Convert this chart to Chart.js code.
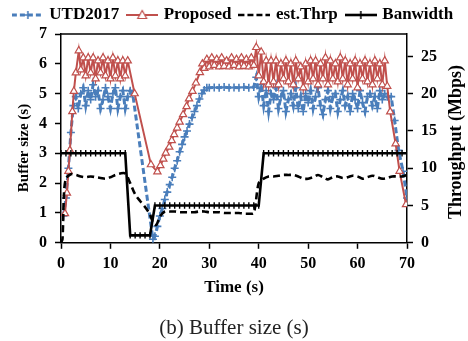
<!DOCTYPE html>
<html><head><meta charset="utf-8">
<script src="https://cdn.jsdelivr.net/npm/chart.js@4.4.1/dist/chart.umd.min.js"></script>
<style>html,body{margin:0;padding:0;background:#fff;}#wrap{width:468px;height:341px;}</style>
</head><body><div id="wrap"><canvas id="c" width="468" height="341"></canvas></div>
<script>
// ---- data ----
const seriesNames = ['UTD2017', 'Proposed', 'est.Thrp', 'Banwidth'];
const xTitle = 'Time (s)';
const yTitle = 'Buffer size (s)';
const y2Title = 'Throughput (Mbps)';
const caption = '(b) Buffer size (s)';

// UTD2017 buffer (s)
const utdT = [0.5,1,1.5,2,2.5,3,3.5,4,4.5,5,5.5,6,6.5,7,7.5,8,8.5,9,9.5,10,10.5,11,11.5,12,12.5,13,13.5,14,14.5,
  18.6,19,19.5,20,20.5,21,21.5,22,22.5,23,23.5,24,24.5,25,25.5,26,26.5,27,27.5,28,28.5,29,29.5,
  30,31,32,33,34,35,36,37,38,39,39.5,
  40,40.5,41,41.5,42,42.5,43,43.5,44,44.5,45,45.5,46,46.5,47,47.5,48,48.5,49,49.5,50,50.5,51,51.5,52,52.5,53,53.5,54,54.5,55,55.5,56,56.5,57,57.5,58,58.5,59,59.5,60,60.5,61,61.5,62,62.5,63,63.5,64,64.5,65,65.5,66,
  66.8,67.5,68.3,69.2,70];
const utdV = [0.9,1.5,2.5,3.7,4.6,4.9,4.5,5.0,5.2,4.6,5.1,4.8,5.3,4.9,5.1,4.5,4.8,5.2,4.9,4.5,5.0,5.2,4.5,4.9,5.1,4.5,4.9,5.1,5.0,
  0.12,0.22,0.55,0.9,1.15,1.45,1.7,1.95,2.2,2.5,2.75,3.05,3.3,3.55,3.75,3.98,4.2,4.4,4.6,4.82,5.0,5.12,5.2,
  5.2,5.21,5.2,5.22,5.2,5.21,5.2,5.22,5.2,5.22,5.55,
  4.9,5.3,4.6,5.1,4.4,5.0,4.8,5.2,4.5,4.9,5.1,4.4,4.8,5.0,4.6,5.2,4.5,4.9,4.4,5.0,4.7,5.1,4.5,4.9,5.2,4.6,4.3,4.8,5.1,4.5,4.9,5.0,4.4,4.8,5.1,4.6,4.9,4.4,5.0,4.8,4.5,5.1,4.7,4.4,4.9,5.0,4.6,4.9,4.5,5.1,4.8,5.0,4.9,
  4.9,4.1,3.1,2.4,1.5];

// Proposed buffer (s)
const propT = [0.8,1.2,1.5,1.8,2.3,2.6,3.0,3.6,4,4.5,5,5.5,6,6.5,7,7.5,8,8.5,9,9.5,10,10.5,11,11.5,12,12.5,13,13.5,14.9,
  18.2,19.5,20.1,20.7,21.2,21.9,22.4,22.9,23.5,24.0,24.7,25.4,25.9,26.6,27.3,28.1,28.6,
  29,29.5,30,30.5,31,31.5,32,32.5,33,33.5,34,34.5,35,35.5,36,36.5,37,37.5,38,38.5,39,39.5,
  40,40.5,41,41.5,42,42.5,43,43.5,44,44.5,45,45.5,46,46.5,47,47.5,48,48.5,49,49.5,50,50.5,51,51.5,52,52.5,53,53.5,54,54.5,55,55.5,56,56.5,57,57.5,58,58.5,59,59.5,60,60.5,61,61.5,62,62.5,63,63.5,64,64.5,65,65.5,66,
  66.6,67.7,68.5,69.8];
const propV = [0.98,1.67,2.4,3.1,4.4,5.08,5.7,6.44,5.8,6.2,5.6,6.2,5.7,6.2,5.5,6.1,5.7,6.2,5.6,6.1,5.5,6.2,5.6,6.1,5.5,6.1,5.6,6.1,5.0,
  2.62,2.38,2.59,2.81,3.01,3.21,3.43,3.63,3.85,4.05,4.3,4.57,4.83,5.08,5.36,5.71,6.0,
  5.85,6.15,5.9,6.2,5.95,6.15,5.9,6.2,5.92,6.1,5.9,6.2,5.95,6.15,5.9,6.2,5.92,6.15,5.9,6.2,5.95,6.55,
  5.6,6.4,5.4,6.1,5.3,6.1,5.4,6.1,5.3,6.0,5.5,6.1,5.4,6.0,5.3,6.1,5.5,5.9,5.2,6.0,5.4,6.1,5.5,6.1,5.3,6.0,5.5,6.2,5.3,6.1,5.5,6.0,5.4,6.2,5.5,6.1,5.3,6.0,5.5,6.1,5.2,6.0,5.5,6.1,5.4,6.0,5.3,6.1,5.5,6.0,5.3,6.1,5.25,
  4.39,3.32,2.4,1.28];

// est.Thrp (Mbps)
const estT = [0,0.3,0.6,1,2,3,4,5,6,7,8,9,10,11,12,13,14,15,16,17,18,18.7,19.3,20,21,22,23,24,25,26,27,28,29,30,31,32,33,34,35,36,37,38,39,
  40,41,42,43,44,45,46,47,48,49,50,51,52,53,54,55,56,57,58,59,60,61,62,63,64,65,66,67,68,69,70];
const estV = [0,0.5,6.5,8.6,9.2,9.1,8.9,8.8,8.9,8.8,8.7,8.6,8.8,9.1,9.3,9.3,8.0,6.5,5.6,4.8,3.8,2.6,2.4,3.5,4.2,4.2,4.2,4.1,4.1,4.1,4.1,4.2,4.2,4.1,4.1,4.1,4.0,4.0,4.0,4.0,3.9,3.9,4.0,
  8.0,8.6,8.9,8.9,9.0,9.1,9.1,9.1,8.9,8.6,8.6,8.8,9.1,8.8,8.5,8.8,8.9,8.7,8.8,9.0,8.9,8.6,8.8,9.0,8.8,8.6,8.7,8.9,8.9,8.9,9.1];

// Banwidth (Mbps)
const bwT = [0,1,2,3,4,5,6,7,8,9,10,11,12,13,14,15,16,17,18,19,20,21,22,23,24,25,26,27,28,29,30,31,32,33,34,35,36,37,38,39,40,
  41,42,43,44,45,46,47,48,49,50,51,52,53,54,55,56,57,58,59,60,61,62,63,64,65,66,67,68,69,70];
const bwV = [12,12,12,12,12,12,12,12,12,12,12,12,12,12,1,1,1,1,1,5,5,5,5,5,5,5,5,5,5,5,5,5,5,5,5,5,5,5,5,5,5,
  12,12,12,12,12,12,12,12,12,12,12,12,12,12,12,12,12,12,12,12,12,12,12,12,12,12,12,12,12,12];

// ---- styling ----
const SERIF = "'Liberation Serif','Times New Roman',serif";
const BLUE = '#4A7EBB';
const RED = '#C0504D';
const BLACK = '#000000';
const pts = (T, V) => T.map((t, i) => ({x: t, y: V[i]}));

function sample(draw) {
  const c = document.createElement('canvas');
  c.width = 32; c.height = 14;
  const g = c.getContext('2d');
  draw(g);
  return c;
}
const samples = [
  sample(g => { g.strokeStyle = BLUE; g.lineWidth = 3; g.setLineDash([5, 3]);
    g.beginPath(); g.moveTo(0, 7); g.lineTo(32, 7); g.stroke();
    g.setLineDash([]); g.lineWidth = 1.6; g.beginPath(); g.moveTo(12, 7); g.lineTo(20, 7); g.moveTo(16, 3); g.lineTo(16, 11); g.stroke(); }),
  sample(g => { g.strokeStyle = RED; g.lineWidth = 2; g.beginPath(); g.moveTo(0, 7); g.lineTo(32, 7); g.stroke();
    g.fillStyle = '#fff'; g.lineWidth = 1.2; g.beginPath(); g.moveTo(16, 2.5); g.lineTo(20.5, 10.5); g.lineTo(11.5, 10.5); g.closePath(); g.fill(); g.stroke(); }),
  sample(g => { g.strokeStyle = BLACK; g.lineWidth = 2.6; g.setLineDash([6, 3]);
    g.beginPath(); g.moveTo(0, 7); g.lineTo(32, 7); g.stroke(); }),
  sample(g => { g.strokeStyle = BLACK; g.lineWidth = 2.6; g.beginPath(); g.moveTo(0, 7); g.lineTo(32, 7); g.stroke();
    g.lineWidth = 1.5; g.beginPath(); g.moveTo(16, 3); g.lineTo(16, 11); g.stroke(); })
];

const extras = {
  id: 'extras',
  afterInit(chart) {
    const lg = chart.legend;
    if (lg) {
      const orig = lg.fit;
      lg.fit = function () { orig.call(this); this.height = 37.5; };
    }
  },
  afterDraw(chart) {
    const {ctx, chartArea: a} = chart;
    ctx.save();
    ctx.strokeStyle = '#000'; ctx.lineWidth = 1.5;
    ctx.beginPath(); ctx.moveTo(a.left, a.top); ctx.lineTo(a.right, a.top); ctx.stroke();
    ctx.fillStyle = '#000'; ctx.textAlign = 'center'; ctx.textBaseline = 'middle';
    ctx.font = 'bold 15px ' + SERIF;
    ctx.save(); ctx.translate(24, 148); ctx.rotate(-Math.PI / 2); ctx.fillText(yTitle, 0, 0); ctx.restore();
    ctx.font = 'bold 18px ' + SERIF;
    ctx.save(); ctx.translate(456, 142); ctx.rotate(-Math.PI / 2); ctx.fillText(y2Title, 0, 0); ctx.restore();
    ctx.restore();
  }
};

const tickFont = {family: SERIF, size: 16, weight: 'bold'};
const axisCommon = {
  grid: {display: true, drawOnChartArea: false, drawTicks: true, tickLength: 6, tickWidth: 1.5, tickColor: '#000'},
  border: {display: true, color: '#000', width: 1.5}
};

new Chart(document.getElementById('c'), {
  type: 'line',
  data: {
    datasets: [
      {label: seriesNames[0], data: pts(utdT, utdV), yAxisID: 'y', order: 3,
       borderColor: BLUE, backgroundColor: BLUE, borderWidth: 3, borderDash: [6, 3],
       pointStyle: 'cross', pointRadius: 4, pointBorderWidth: 1.6, pointBorderColor: BLUE, tension: 0},
      {label: seriesNames[1], data: pts(propT, propV), yAxisID: 'y', order: 2,
       borderColor: RED, backgroundColor: '#fff', borderWidth: 2,
       pointStyle: 'triangle', pointRadius: 4.2, pointBorderWidth: 1.2, pointBorderColor: RED, pointBackgroundColor: '#fff', tension: 0},
      {label: seriesNames[2], data: pts(estT, estV), yAxisID: 'y2', order: 1,
       borderColor: BLACK, backgroundColor: BLACK, borderWidth: 2.6, borderDash: [7, 4],
       pointRadius: 0, tension: 0.3},
      {label: seriesNames[3], data: pts(bwT, bwV), yAxisID: 'y2', order: 0,
       borderColor: BLACK, backgroundColor: BLACK, borderWidth: 2.6,
       pointStyle: 'line', pointRotation: 90, pointRadius: 3.2, pointBorderWidth: 1.4, pointBorderColor: BLACK, tension: 0}
    ]
  },
  options: {
    responsive: false,
    devicePixelRatio: 1,
    animation: false,
    layout: {padding: {top: -3.5, left: 0, right: 0, bottom: 0}},
    plugins: {
      tooltip: {enabled: false},
      legend: {
        display: true, position: 'top',
        labels: {
          usePointStyle: true, pointStyleWidth: 26, padding: 10, color: '#000',
          font: {family: SERIF, size: 17, weight: 'bold'},
          sort: (a, b) => a.datasetIndex - b.datasetIndex,
          generateLabels(chart) {
            const items = Chart.defaults.plugins.legend.labels.generateLabels(chart);
            items.forEach(it => { it.pointStyle = samples[it.datasetIndex]; it.rotation = 0; });
            return items;
          }
        }
      },
      title: {
        display: true, position: 'bottom', text: caption, color: '#222',
        font: {family: SERIF, size: 21, weight: 'normal'},
        padding: {top: 12, bottom: 0}
      }
    },
    scales: {
      x: Object.assign({}, axisCommon, {
        type: 'linear', min: 0, max: 70,
        ticks: {stepSize: 10, font: tickFont, color: '#000', padding: 5},
        title: {display: true, text: xTitle, color: '#000', font: {family: SERIF, size: 17, weight: 'bold'}, padding: {top: 0, bottom: 5.6}},
        afterFit(s) { s.height = 61; }
      }),
      y: Object.assign({}, axisCommon, {
        position: 'left', min: 0, max: 7,
        ticks: {stepSize: 1, font: tickFont, color: '#000', padding: 8},
        afterFit(s) { s.width = 61; }
      }),
      y2: Object.assign({}, axisCommon, {
        position: 'right', min: 0, max: 28,
        ticks: {stepSize: 5, includeBounds: false, font: tickFont, color: '#000', padding: 8},
        afterFit(s) { s.width = 61; }
      })
    }
  },
  plugins: [extras]
});
</script>
</body></html>
